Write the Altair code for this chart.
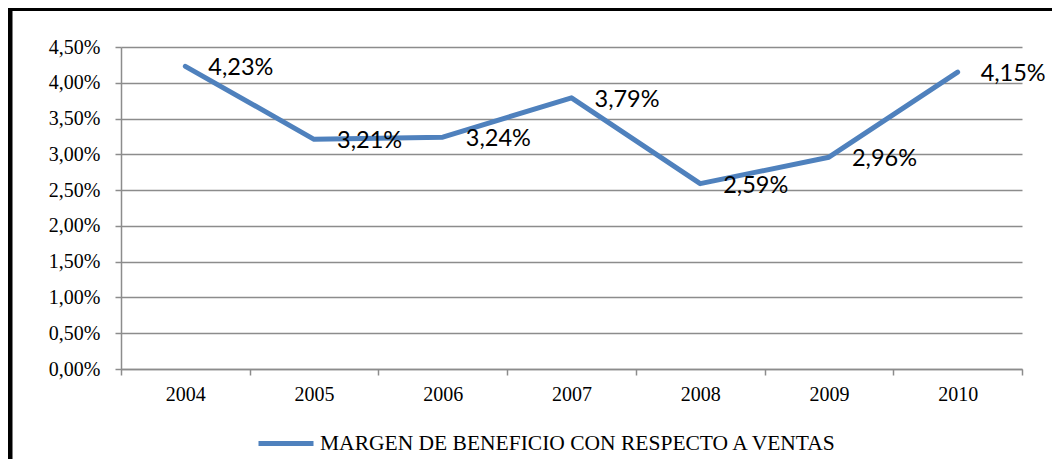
import altair as alt
import pandas as pd

years = ["2004", "2005", "2006", "2007", "2008", "2009", "2010"]
margins = [4.23, 3.21, 3.24, 3.79, 2.59, 2.96, 4.15]
value_labels = ["4,23%", "3,21%", "3,24%", "3,79%", "2,59%", "2,96%", "4,15%"]
series_name = "MARGEN DE BENEFICIO CON RESPECTO A VENTAS"
y_ticks = [0.0, 0.5, 1.0, 1.5, 2.0, 2.5, 3.0, 3.5, 4.0, 4.5]

df = pd.DataFrame({
    "year": years,
    "margin": margins,
    "label": value_labels,
    "series": [series_name] * len(years),
})

W, H = 901, 322
GRID = "#8c8c8c"
BLUE = "#4F81BD"
AXFONT = "Liberation Serif"

x_enc = alt.X(
    "year:O",
    scale=alt.Scale(type="band", paddingInner=0, paddingOuter=0),
    axis=alt.Axis(
        title=None, labelAngle=0, tickBand="extent", grid=False,
        tickSize=6, labelPadding=9, domainColor=GRID, tickColor=GRID,
        domainWidth=1.5, tickWidth=1.5,
        labelFont=AXFONT, labelFontSize=20, labelColor="black",
    ),
)
y_enc = alt.Y(
    "margin:Q",
    scale=alt.Scale(domain=[0, 4.5], nice=False, zero=True),
    axis=alt.Axis(
        title=None, values=y_ticks, tickSize=6, labelPadding=15,
        labelOverlap=False, tickCount=10,
        labelExpr="replace(format(datum.value, '.2f'), '.', ',') + '%'",
        grid=True, gridColor=GRID, gridWidth=1.5,
        domainColor=GRID, tickColor=GRID, domainWidth=1.5, tickWidth=1.5,
        labelFont=AXFONT, labelFontSize=20, labelColor="black",
    ),
)

base = alt.Chart(df).encode(x=x_enc, y=y_enc)

line = base.mark_line(strokeWidth=5, strokeCap="round", strokeJoin="round").encode(
    color=alt.Color(
        "series:N",
        scale=alt.Scale(domain=[series_name], range=[BLUE]),
        legend=alt.Legend(
            title=None, orient="none", legendX=135, legendY=366.5,
            symbolType="stroke", symbolSize=3025, symbolStrokeWidth=5,
            labelFont=AXFONT, labelFontSize=21.5, labelColor="black",
            labelOffset=4, padding=0, labelLimit=0,
        ),
    ),
)

text = base.mark_text(
    align="left", baseline="middle", dx=23, dy=2,
    font="Lato", fontSize=23.5, color="black",
).encode(text="label:N")

one = pd.DataFrame({"a": [0]})
frame_top = alt.Chart(one).mark_rule(color="black", strokeWidth=3).encode(
    x=alt.value(-113), x2=alt.value(W + 40), y=alt.value(-37.5)
)
frame_left = alt.Chart(one).mark_rule(color="black", strokeWidth=5).encode(
    x=alt.value(-111), y=alt.value(-39), y2=alt.value(H + 95)
)

chart = alt.layer(line, text, frame_top, frame_left).properties(
    width=W, height=H,
    padding={"left": 113, "top": 39, "right": 30, "bottom": 90},
    autosize=alt.AutoSizeParams(type="none"),
).configure_view(stroke=None)

chart.save("out.html", embed_options={"renderer": "svg", "actions": False})
